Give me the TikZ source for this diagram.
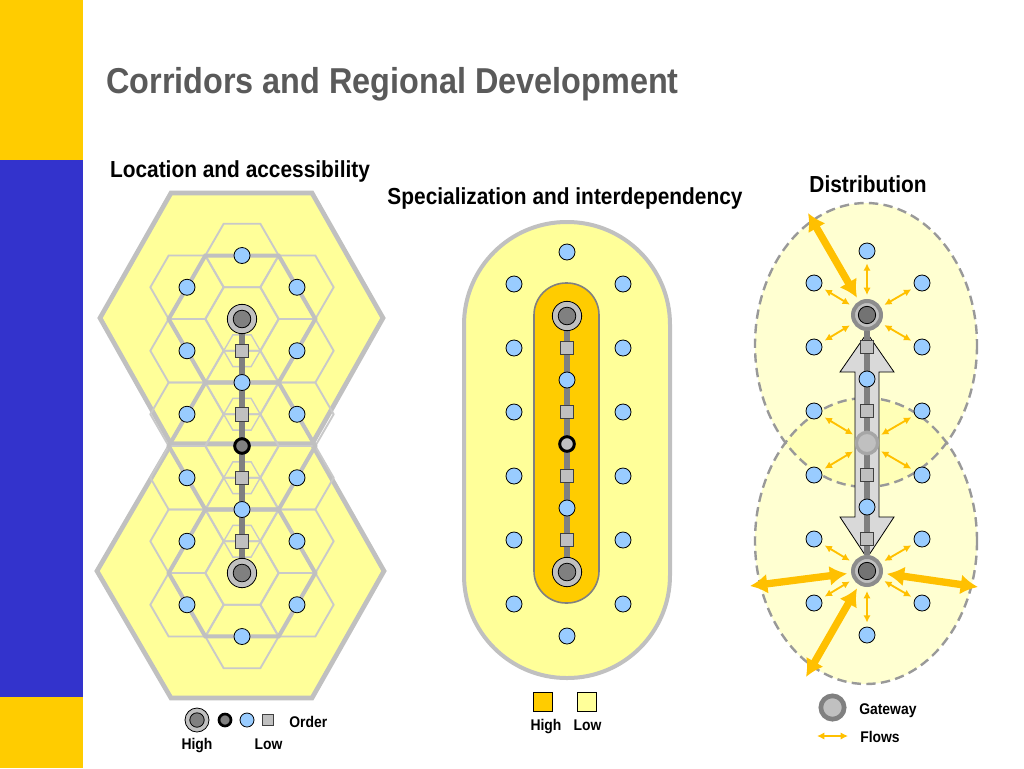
\documentclass[tikz,border=0pt]{standalone}
\usepackage{fontspec}
\setmainfont{Liberation Sans}[FakeStretch=0.9]
\usetikzlibrary{arrows.meta,positioning,calc}
\definecolor{stripeblue}{HTML}{3333CC}
\definecolor{gold}{HTML}{FFCC00}
\definecolor{titlegray}{HTML}{5A5A5A}
\definecolor{paleyel}{HTML}{FFFF99}
\definecolor{dotblue}{HTML}{99CCFF}
\definecolor{flowor}{HTML}{FFC000}
\definecolor{rim}{HTML}{C0C0C0}
\definecolor{midgray}{HTML}{808080}
\pgfdeclarelayer{back}
\pgfdeclarelayer{mid}
\pgfsetlayers{back,mid,main}
\newcommand{\hexcell}[3]{\draw[#1] (#2) +(0:#3) -- +(60:#3) -- +(120:#3) -- +(180:#3) -- +(240:#3) -- +(300:#3) -- cycle;}

\begin{document}
\begin{tikzpicture}[x=0.75pt,y=-0.75pt,>=Latex,
  ttl/.style={font=\fontsize{27}{32}\selectfont\bfseries,text=titlegray,inner sep=0pt},
  hd/.style={font=\fontsize{17.4}{20}\selectfont\bfseries,anchor=base,inner sep=0pt},
  lg/.style={font=\fontsize{11.6}{14}\selectfont\bfseries,inner sep=0pt},
  dot/.style={circle,draw=black,line width=0.6pt,fill=dotblue,inner sep=0pt,minimum size=12pt},
  sq/.style={rectangle,draw=black!75,line width=0.5pt,fill=rim,inner sep=0pt,minimum size=10pt},
  ctr/.style={circle,draw=black,line width=2.2pt,fill=midgray,inner sep=0pt,minimum size=11pt},
  gw/.style={circle,draw=black,line width=0.6pt,fill=rim,inner sep=0pt,minimum size=#1,
    path picture={\filldraw[fill=midgray,draw=black,line width=0.6pt]
      (path picture bounding box.center) circle ({0.3*#1});}},
  gw/.default=22pt,
  pgw/.style={circle,draw=black!45,line width=3pt,fill=rim,inner sep=0pt,minimum size=21pt,
    path picture={\filldraw[fill=black!55,draw=black,line width=0.6pt]
      (path picture bounding box.center) circle (6.5pt);}},
  ring/.style={circle,draw=black!50,line width=3.5pt,fill=rim,inner sep=0pt,minimum size=17.5pt},
  keysq/.style={rectangle,draw=black,line width=0.5pt,inner sep=0pt,minimum size=14pt},
  corr/.style={draw=midgray,line width=4.6pt},
  hexrim/.style={fill=paleyel,draw=rim,line width=3.5pt},
  fine/.style={draw=rim!85,line width=1.4pt},
  bold/.style={draw=rim,line width=3pt},
  dashrim/.style={draw=black!40,line width=1.8pt,dash pattern=on 7pt off 4pt},
  flowsm/.style={{Latex[length=5.5pt,width=5.5pt]}-{Latex[length=5.5pt,width=5.5pt]},draw=flowor,
    line width=1.4pt,shorten <=3pt,shorten >=3pt},
  flowbig/.style={{Latex[length=13pt,width=15pt]}-{Latex[length=13pt,width=15pt]},draw=flowor,
    line width=5.5pt,shorten >=3pt}]
\useasboundingbox (0,0) rectangle (1024,768);
\begin{pgfonlayer}{back}
\fill[white] (0,0) rectangle (1024,768);
\fill[gold] (0,0) rectangle (83,160);
\fill[stripeblue] (0,160) rectangle (83,697);
\fill[gold] (0,697) rectangle (83,768);
\end{pgfonlayer}
\node[ttl,anchor=base west] (title) at (106,93) {Corridors and Regional Development};
\node[hd] (hloc) at (240,177) {Location and accessibility};
\node[hd] (hspec) at (565,204) {Specialization and interdependency};
\node[hd] (hdist) at (868,192) {Distribution};

% location and accessibility
\begin{pgfonlayer}{back}
\filldraw[hexrim] (100,318) -- (171,193) -- (312,193) -- (383,318) -- (312,444) -- (171,444) -- cycle;
\filldraw[hexrim] (171,444) -- (312,444) -- (384,571) -- (312,698) -- (171,698) -- (97,571) -- cycle;
\foreach \yy in {255.5,319,382.5,446,509.5,573,636.5} {\hexcell{fine}{242,\yy}{36.66}}
\foreach \yy in {287.25,350.75,414.25,477.75,541.25,604.75} {
  \hexcell{fine}{187,\yy}{36.66}
  \hexcell{fine}{297,\yy}{36.66}}
\foreach \yy in {350.75,414.25,477.75,541.25} {\hexcell{fine,line width=1pt}{242,\yy}{18.3}}
\foreach \yy in {319,446,573} {\hexcell{bold}{242,\yy}{73.3}}
\end{pgfonlayer}
\foreach \k/\yy in {1/255.5,2/382.5,3/509.5,4/636.5} {\node[dot] (la\k) at (242,\yy) {};}
\foreach \k/\yy in {1/287.25,2/350.75,3/414.25,4/477.75,5/541.25,6/604.75} {
  \node[dot] (ll\k) at (187,\yy) {};
  \node[dot] (lr\k) at (297,\yy) {};}
\foreach \k/\yy in {1/350.75,2/414.25,3/477.75,4/541.25} {\node[sq] (ls\k) at (242,\yy) {};}
\node[gw] (lgn) at (242,319) {};
\node[ctr] (lc) at (242,446) {};
\node[gw] (lgs) at (242,573) {};
\begin{pgfonlayer}{mid}
\draw[corr] (lgn) -- (lgs);
\end{pgfonlayer}
\node[gw=18pt] (kgw) at (197,720) {};
\node[ctr,minimum size=9pt,line width=2pt] (kc) at (225,720) {};
\node[dot,minimum size=10.5pt] (kdot) at (247,720) {};
\node[sq,minimum size=8.5pt] (ksq) at (268,720) {};
\node[lg,anchor=base west] (kord) at (289,727) {Order};
\node[lg,anchor=base] (khigh) at (197,749) {High};
\node[lg,anchor=base] (klow) at (268.5,749) {Low};

% specialization and interdependency
\begin{pgfonlayer}{back}
\filldraw[fill=paleyel,draw=rim,line width=3pt,rounded corners=77pt] (464,222) rectangle (670,678);
\filldraw[fill=gold,draw=midgray,line width=1.2pt,rounded corners=24pt] (534,283) rectangle (599,603);
\end{pgfonlayer}
\foreach \k/\yy in {1/252,2/380,3/508,4/636} {\node[dot] (sa\k) at (567,\yy) {};}
\foreach \k/\yy in {1/284,2/348,3/412,4/476,5/540,6/604} {
  \node[dot] (sl\k) at (514,\yy) {};
  \node[dot] (sr\k) at (623,\yy) {};}
\foreach \k/\yy in {1/348,2/412,3/476,4/540} {\node[sq] (ss\k) at (567,\yy) {};}
\node[gw] (sgn) at (567,316) {};
\node[ctr,fill=rim] (sc) at (567,444) {};
\node[gw] (sgs) at (567,572) {};
\begin{pgfonlayer}{mid}
\draw[corr] (sgn) -- (sgs);
\end{pgfonlayer}
\node[keysq,fill=gold] (khi) at (543,702) {};
\node[keysq,fill=paleyel] (klo) at (587,702) {};
\node[lg,anchor=base] (thi) at (546,730) {High};
\node[lg,anchor=base] (tlo) at (587.5,730) {Low};

% distribution
\begin{pgfonlayer}{back}
\fill[paleyel,fill opacity=0.45] (866,345) ellipse [x radius=111,y radius=142];
\fill[paleyel,fill opacity=0.45] (866,541) ellipse [x radius=111,y radius=143];
\draw[dashrim] (866,345) ellipse [x radius=111,y radius=142];
\draw[dashrim] (866,541) ellipse [x radius=111,y radius=143];
\end{pgfonlayer}
\foreach \k/\yy in {1/251,2/379,3/507,4/635} {\node[dot] (da\k) at (867,\yy) {};}
\foreach \k/\yy in {1/283,2/347,3/411,4/475,5/539,6/603} {
  \node[dot] (dl\k) at (814,\yy) {};
  \node[dot] (dr\k) at (922,\yy) {};}
\foreach \k/\yy in {1/347,2/411,3/475,4/539} {\node[sq] (ds\k) at (867,\yy) {};}
\node[pgw] (dgn) at (867,315) {};
\node[circle,draw=black!35,line width=2.5pt,fill=rim,inner sep=0pt,minimum size=16pt] (dgm) at (867,443) {};
\node[pgw] (dgs) at (867,571) {};
\begin{pgfonlayer}{mid}
\filldraw[fill=black!15,draw=black,line width=0.6pt] (867,333) -- (894,372) -- (879,372) -- (879,517)
  -- (894,517) -- (867,558) -- (840,517) -- (855,517) -- (855,372) -- (840,372) -- cycle;
\draw[corr] (dgn) -- (dgs);
\end{pgfonlayer}
\draw (dgn) edge[flowsm] (da1) edge[flowsm] (dl1) edge[flowsm] (dr1) edge[flowsm] (dl2) edge[flowsm] (dr2);
\draw (dgm) edge[flowsm] (dl3) edge[flowsm] (dr3) edge[flowsm] (dl4) edge[flowsm] (dr4);
\draw (dgs) edge[flowsm] (dl5) edge[flowsm] (dr5) edge[flowsm] (dl6) edge[flowsm] (dr6) edge[flowsm] (da4);
\coordinate (f1) at (808,213);
\coordinate (f2) at (750,586);
\coordinate (f3) at (978,587);
\coordinate (f4) at (806,677);
\draw[flowbig] (f1) -- (dgn);
\draw[flowbig] (f2) -- (dgs);
\draw[flowbig] (f3) -- (dgs);
\draw[flowbig] (f4) -- (dgs);
\node[ring] (kring) at (832.5,707.5) {};
\coordinate (kf1) at (817,736);
\coordinate (kf2) at (848,736);
\draw[flowsm,shorten <=0pt,shorten >=0pt] (kf1) -- (kf2);
\node[lg,anchor=base west] (tgw) at (859,714) {Gateway};
\node[lg,anchor=base west] (tfl) at (860,742) {Flows};
\end{tikzpicture}
\end{document}
